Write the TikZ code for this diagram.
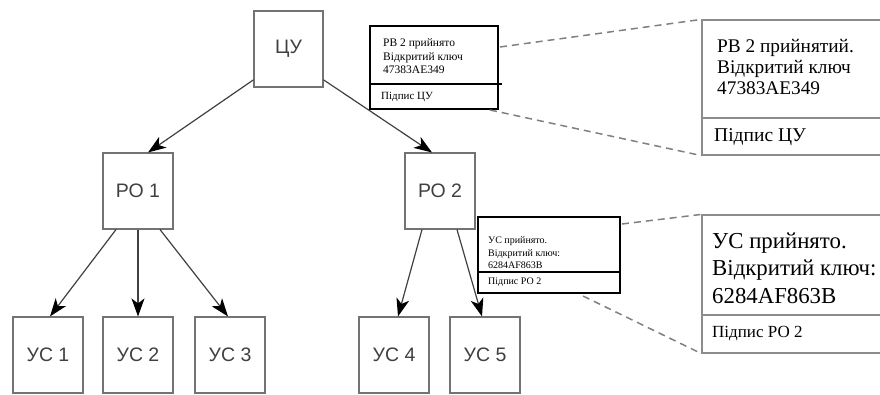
\documentclass[tikz,border=0pt]{standalone}
\usepackage{fontspec}
\setmainfont{Liberation Serif}
\newfontfamily\labelfont{Liberation Sans}
\usetikzlibrary{arrows.meta,calc}
\begin{document}
\begin{tikzpicture}[x=1pt,y=-1pt,
  unit/.style={draw=black!55, line width=1.1pt, minimum width=70pt,
    minimum height=76pt, inner sep=0pt,
    font=\labelfont\fontsize{19.5}{22}\selectfont, text=black!75},
  link/.style={draw=black!75, line width=1.2pt,
    -{Stealth[length=18pt,width=13pt,inset=5pt,black]}},
  card/.style={draw=black, line width=1.8pt, inner sep=0pt},
  bigcard/.style={draw=black!45, line width=1.2pt, inner sep=0pt},
  txt/.style={anchor=west, align=left, inner sep=0pt},
  zoomline/.style={draw=black!50, line width=1.5pt, dash pattern=on 7pt off 5pt}
]
\useasboundingbox (0,0) rectangle (880,394);
\clip (0,0) rectangle (880,394);

% hierarchy
\node[unit, minimum width=69pt] (cu) at (288.5,49) {ЦУ};
\node[unit] (ro1) at (138,191) {РО 1};
\node[unit] (ro2) at (440,191) {РО 2};
\node[unit] (us1) at (48,355) {УС 1};
\node[unit] (us2) at (138,355) {УС 2};
\node[unit] (us3) at (230,355) {УС 3};
\node[unit] (us4) at (394,355) {УС 4};
\node[unit] (us5) at (485,355) {УС 5};

\draw[link] ($(cu.south west)!0.1!(cu.north west)$) -- ($(ro1.north)+(10,0)$);
\draw[link] ($(cu.south east)!0.1!(cu.north east)$) -- ($(ro2.north)+(-8,0)$);
\draw[link] ($(ro1.south)+(-22,0)$) -- ($(us1.north)+(2,0)$);
\draw[link] (ro1.south) -- (us2.north);
\draw[link] ($(ro1.south)+(22,0)$) -- ($(us3.north)+(-2,0)$);
\draw[link] ($(ro2.south)+(-18,0)$) -- ($(us4.north)+(4,0)$);
\draw[link] ($(ro2.south)+(17,0)$) -- ($(us5.north)+(-3,0)$);

% certificate from ЦУ
\node[card, minimum width=128pt, minimum height=83pt] (c1) at (434,67.5) {};
\draw[line width=1.2pt] (370,84) coordinate (c1l) -- (502,84) coordinate (c1r);
\node[txt, font=\fontsize{11.5}{13.5}\selectfont] (c1t) at (383,56.5)
  {РВ 2 прийнято\\Відкритий ключ\\47383AE349};
\node[txt, font=\fontsize{11}{13}\selectfont] (c1s) at (381,97) {Підпис ЦУ};

% certificate from РО 2
\node[card, minimum width=142pt, minimum height=76pt] (c2) at (549,255) {};
\draw[line width=1.8pt] (478,272) coordinate (c2l) -- (620,272) coordinate (c2r);
\node[txt, font=\fontsize{10}{12.5}\selectfont] (c2t) at (488,253)
  {УС прийнято.\\Відкритий ключ:\\6284AF863B};
\node[txt, font=\fontsize{10}{12.5}\selectfont] (c2s) at (488,282) {Підпис РО 2};

% enlarged views
\node[bigcard, minimum width=190pt, minimum height=135pt] (b1) at (797,87.5) {};
\draw[draw=black!45, line width=1.2pt] (702,118) coordinate (b1l) -- (890,118) coordinate (b1r);
\node[txt, font=\fontsize{19.3}{21}\selectfont] (b1t) at (717,67)
  {РВ 2 прийнятий.\\Відкритий ключ\\47383AE349};
\node[txt, font=\fontsize{19.5}{21}\selectfont] (b1s) at (714,137) {Підпис ЦУ};

\node[bigcard, minimum width=190pt, minimum height=138pt] (b2) at (797,284) {};
\draw[draw=black!45, line width=1.2pt] (702,315) coordinate (b2l) -- (890,315) coordinate (b2r);
\node[txt, font=\fontsize{22.8}{27.5}\selectfont] (b2t) at (712,268)
  {УС прийнято.\\Відкритий ключ:\\6284AF863B};
\node[txt, font=\fontsize{17}{20}\selectfont] (b2s) at (712,334) {Підпис РО 2};

% zoom guides
\coordinate (g1) at (500,47);
\coordinate (g2) at (490,110);
\coordinate (g3) at (622,224);
\coordinate (g4) at (583,296);
\draw[zoomline] (g1) -- (b1.north west);
\draw[zoomline] (g2) -- (b1.south west);
\draw[zoomline] (g3) -- (b2.north west);
\draw[zoomline] (g4) -- (b2.south west);
\end{tikzpicture}
\end{document}
